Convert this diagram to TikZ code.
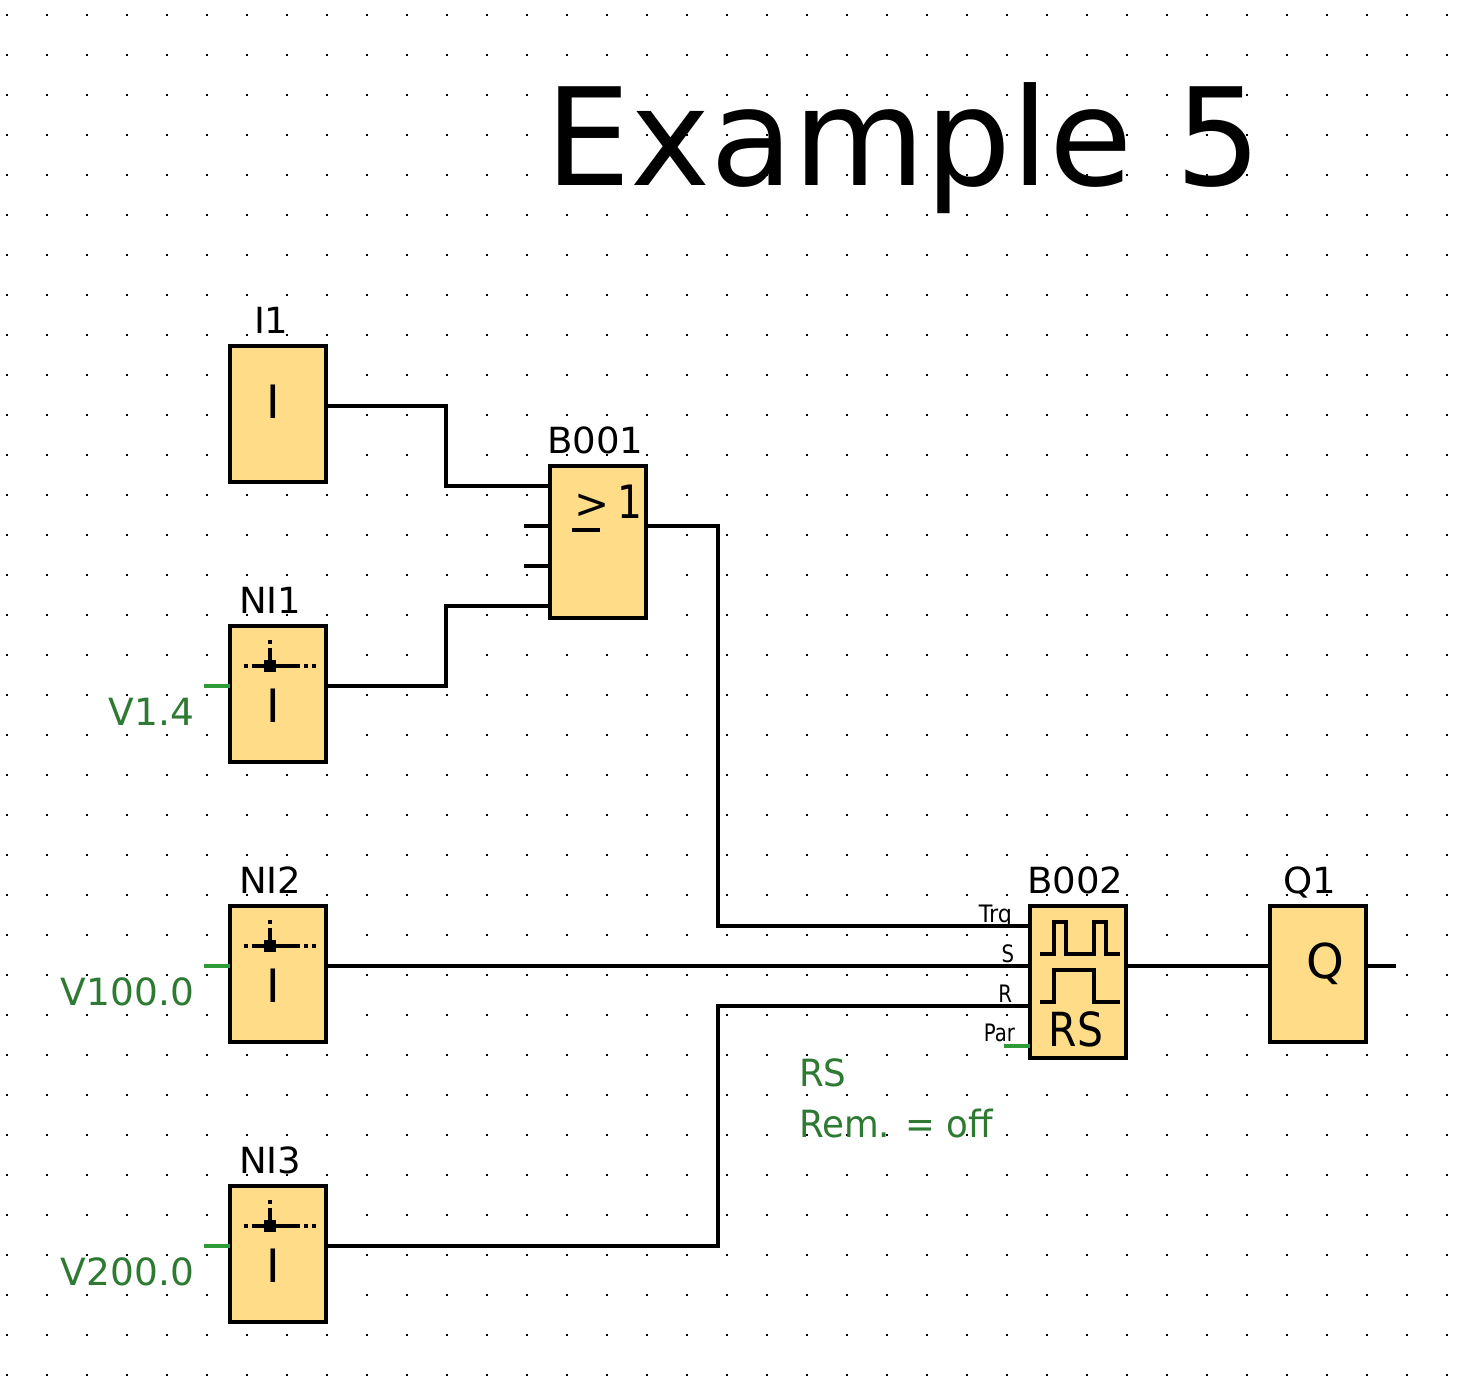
\documentclass[tikz,border=0pt]{standalone}
\usepackage{fontspec}
\setmainfont{DejaVu Sans}
\definecolor{boxfill}{HTML}{FFDD88}
\definecolor{greentext}{HTML}{2E7A33}
\definecolor{greenstub}{HTML}{2E9A38}
\newcommand{\fs}[1]{\fontsize{#1}{#1}\selectfont}
\tikzset{
  blockbox/.style={draw=black,fill=boxfill,line width=4pt,inner sep=0pt,outer sep=0pt,minimum width=96pt},
  wire/.style={draw=black,line width=4pt,line join=miter},
  greenwire/.style={draw=greenstub,line width=4pt},
  txt/.style={inner sep=0pt,outer sep=0pt,black},
  lbl/.style={txt,font=\fs{36},xscale=1.03},
  sym/.style={txt,font=\fs{46}},
  port/.style={txt,anchor=base east,font=\fs{24},xscale=0.82},
  gtxt/.style={inner sep=0pt,outer sep=0pt,text=greentext,font=\fs{37.5}},
  pulse/.style={draw=black,line width=4pt,line join=miter}
}
\begin{document}
\begin{tikzpicture}[x=1pt,y=-1pt]
\useasboundingbox (0,0) rectangle (1472,1386);
\fill[white] (0,0) rectangle (1472,1386);
\foreach \i in {0,...,36}{\foreach \j in {0,...,34}{
  \fill[black] ({6+40*\i},{14+40*\j}) rectangle ({8+40*\i},{16+40*\j});
}}
% title
\node[txt,anchor=base west,font=\fs{135.5}] (title) at (545,185) {Example 5};
% blocks
\node[blockbox,minimum height=136pt] (i1) at (278,414) {};
\node[blockbox,minimum height=136pt] (ni1) at (278,694) {};
\node[blockbox,minimum height=136pt] (ni2) at (278,974) {};
\node[blockbox,minimum height=136pt] (ni3) at (278,1254) {};
\node[blockbox,minimum height=152pt] (b1) at (598,542) {};
\node[blockbox,minimum height=152pt] (b2) at (1078,982) {};
\node[blockbox,minimum height=136pt] (q1) at (1318,974) {};
% ports
\coordinate (i1o) at (326,406);
\coordinate (ni1o) at (326,686);
\coordinate (ni1g) at (230,686);
\coordinate (ni1e) at (204,686);
\coordinate (ni2o) at (326,966);
\coordinate (ni2g) at (230,966);
\coordinate (ni2e) at (204,966);
\coordinate (ni3o) at (326,1246);
\coordinate (ni3g) at (230,1246);
\coordinate (ni3e) at (204,1246);
\coordinate (b1a) at (550,486);
\coordinate (b1b) at (550,526);
\coordinate (b1bf) at (524,526);
\coordinate (b1c) at (550,566);
\coordinate (b1cf) at (524,566);
\coordinate (b1d) at (550,606);
\coordinate (b1o) at (646,526);
\coordinate (b2t) at (1030,926);
\coordinate (b2s) at (1030,966);
\coordinate (b2r) at (1030,1006);
\coordinate (b2p) at (1030,1046);
\coordinate (b2pf) at (1004,1046);
\coordinate (b2o) at (1126,966);
\coordinate (q1i) at (1270,966);
\coordinate (q1o) at (1366,966);
\coordinate (q1f) at (1396,966);
% wires
\draw[wire] (i1o) -- (446,406) -- (446,486) -- (b1a);
\draw[wire] (ni1o) -- (446,686) -- (446,606) -- (b1d);
\draw[wire] (b1b) -- (b1bf);
\draw[wire] (b1c) -- (b1cf);
\draw[wire] (b1o) -- (718,526) -- (718,926) -- (b2t);
\draw[wire] (ni2o) -- (b2s);
\draw[wire] (ni3o) -- (718,1246) -- (718,1006) -- (b2r);
\draw[wire] (b2o) -- (q1i);
\draw[wire] (q1o) -- (q1f);
\draw[greenwire] (ni1e) -- (ni1g);
\draw[greenwire] (ni2e) -- (ni2g);
\draw[greenwire] (ni3e) -- (ni3g);
\draw[greenwire] (b2pf) -- (b2p);
% names
\node[lbl,anchor=base west] (li1) at (254,333) {I1};
\node[lbl,anchor=base west] (lni1) at (239,613) {NI1};
\node[lbl,anchor=base west] (lni2) at (239,893) {NI2};
\node[lbl,anchor=base west] (lni3) at (239,1173) {NI3};
\node[lbl,anchor=base west] (lb1) at (547,453) {B001};
\node[lbl,anchor=base west] (lb2) at (1027,893) {B002};
\node[lbl,anchor=base west] (lq1) at (1283,893) {Q1};
% symbols
\node[sym,anchor=base] (si1) at (273,418) {I};
\foreach \n/\y in {1/722,2/1002,3/1282}{
  \node[sym,anchor=base] (sni\n) at (273,\y) {I};
  \fill[black] (264,{\y-62}) rectangle (276,{\y-50});
  \draw[wire] (252,{\y-56}) -- (300,{\y-56});
  \draw[wire] (270,{\y-74}) -- (270,{\y-56});
  \fill[black] (268,{\y-82}) rectangle (272,{\y-78});
  \fill[black] (244,{\y-58}) rectangle (248,{\y-54});
  \fill[black] (304,{\y-58}) rectangle (308,{\y-54});
  \fill[black] (312,{\y-58}) rectangle (316,{\y-54});
}
\node[sym,anchor=base,font=\fs{42}] (sge) at (592,518) {>};
\draw[wire] (572,530) -- (600,530);
\node[sym,anchor=base,xscale=0.85] (sone) at (630,518) {1};
\node[sym,anchor=base,font=\fs{48}] (sq) at (1325,978) {Q};
\draw[pulse] (1040,954) -- (1054,954) -- (1054,922) -- (1066,922) -- (1066,954) -- (1094,954) -- (1094,922) -- (1106,922) -- (1106,954) -- (1120,954);
\draw[pulse] (1040,1002) -- (1054,1002) -- (1054,970) -- (1094,970) -- (1094,1002) -- (1120,1002);
\node[txt,anchor=base,font=\fs{47},xscale=0.87] (srs) at (1076,1046) {RS};
% port labels
\node[port,xscale=1.13] (pt) at (1012,922) {Trq};
\node[port] (ps) at (1014,962) {S};
\node[port] (pr) at (1012,1002) {R};
\node[port] (pp) at (1015,1041) {Par};
% green text
\node[gtxt,anchor=base east] (v1) at (194,725) {V1.4};
\node[gtxt,anchor=base east] (v2) at (194,1005) {V100.0};
\node[gtxt,anchor=base east] (v3) at (194,1285) {V200.0};
\node[gtxt,anchor=base west,xscale=0.95] (rs) at (799,1086) {RS};
\node[gtxt,anchor=base west,xscale=0.95] (rem) at (799,1137) {Rem. = off};
\end{tikzpicture}
\end{document}
